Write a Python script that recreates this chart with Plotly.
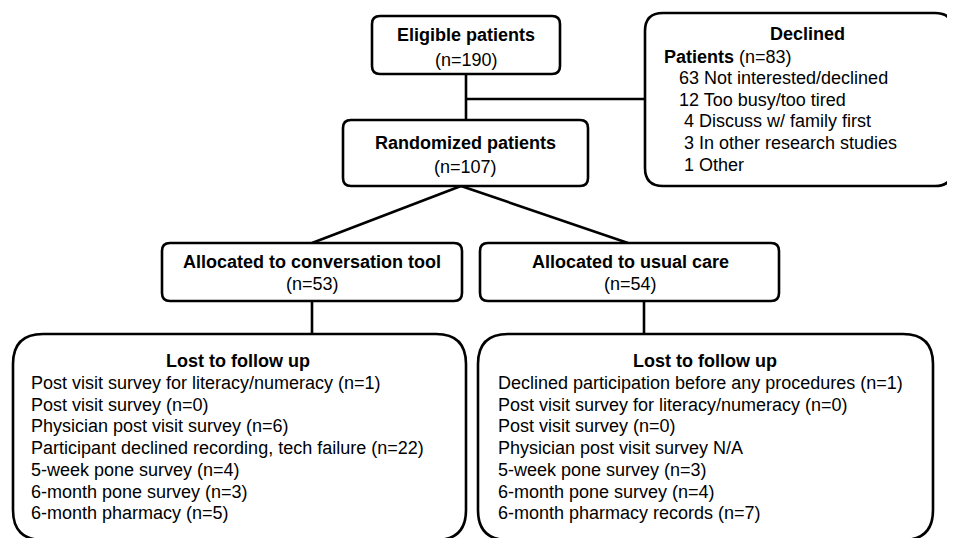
import plotly.graph_objects as go

# ---------------- data ----------------
eligible_n = 190
randomized_n = 107
declined_n = 83
declined_counts = [63, 12, 4, 3, 1]
declined_reasons = ["Not interested/declined", "Too busy/too tired",
                    "Discuss w/ family first", "In other research studies", "Other"]
arm_names = ["conversation tool", "usual care"]
arm_n = [53, 54]
lost_tool_labels = ["Post visit survey for literacy/numeracy", "Post visit survey",
                    "Physician post visit survey", "Participant declined recording, tech failure",
                    "5-week pone survey", "6-month pone survey", "6-month pharmacy"]
lost_tool_counts = [1, 0, 6, 22, 4, 3, 5]
lost_care_labels = ["Declined participation before any procedures",
                    "Post visit survey for literacy/numeracy", "Post visit survey",
                    "Physician post visit survey", "5-week pone survey",
                    "6-month pone survey", "6-month pharmacy records"]
lost_care_counts = [1, 0, 0, None, 3, 4, 7]

# ---------------- layout helpers ----------------
FONT = "Liberation Sans, Arial, Helvetica, sans-serif"
FS = 18
LW = 2.6
W, H = 955, 538
OFF = 8  # page body margin

shapes = []
annotations = []


def rbox(x0, y0, x1, y1, r):
    p = (f"M {x0+r},{y0} L {x1-r},{y0} Q {x1},{y0} {x1},{y0+r} "
         f"L {x1},{y1-r} Q {x1},{y1} {x1-r},{y1} L {x0+r},{y1} "
         f"Q {x0},{y1} {x0},{y1-r} L {x0},{y0+r} Q {x0},{y0} {x0+r},{y0} Z")
    shapes.append(dict(type="path", path=p, xref="x", yref="y",
                       line=dict(color="black", width=LW), fillcolor="white", layer="above"))


def line(x0, y0, x1, y1):
    shapes.append(dict(type="line", x0=x0, y0=y0, x1=x1, y1=y1, xref="x", yref="y",
                       line=dict(color="black", width=LW), layer="below"))


def text(x, y, s, anchor="center", bold=False):
    if bold:
        s = f"<b>{s}</b>"
    annotations.append(dict(x=x, y=y, xref="x", yref="y", text=s, showarrow=False,
                            xanchor=anchor, yanchor="middle",
                            align=anchor if anchor != "center" else "center",
                            font=dict(family=FONT, size=FS, color="black")))


# connectors
line(466, 74, 466, 120)
line(466, 99, 645, 99)
line(461, 186, 312, 243)
line(461, 186, 628, 243)
line(312, 301, 312, 334)
line(644, 301, 644, 334)

# boxes
rbox(372, 16, 560, 74, 8)
rbox(343, 120, 588, 186, 8)
rbox(645, 13, 953, 186, 18)
rbox(162, 243, 462, 301, 8)
rbox(480, 243, 779, 301, 8)
rbox(13, 334, 466, 540, 30)
rbox(478, 334, 933, 540, 30)

# texts
text(466, 35, "Eligible patients", bold=True)
text(466, 60, f"(n={eligible_n})")
text(465, 143, "Randomized patients", bold=True)
text(465, 167, f"(n={randomized_n})")

text(807, 34, "Declined", bold=True)
text(662, 57, f"<b>Patients</b> (n={declined_n})", anchor="left")
for i, (c, r) in enumerate(zip(declined_counts, declined_reasons)):
    s = f"\u00a0{c} {r}" if c < 10 else f"{c} {r}"
    text(677, 78 + i * 21.7, s, anchor="left")

arm_cx = [312, 630]
for cx, name, n in zip(arm_cx, arm_names, arm_n):
    text(cx, 262, f"Allocated to {name}", bold=True)
    text(cx, 284, f"(n={n})")


def lost_lines(labels, counts):
    out = []
    for l, c in zip(labels, counts):
        out.append(f"{l} N/A" if c is None else f"{l} (n={c})")
    return out


for (tx, lx), labels, counts in [((238, 29), lost_tool_labels, lost_tool_counts),
                                  ((705, 496), lost_care_labels, lost_care_counts)]:
    text(tx, 361, "Lost to follow up", bold=True)
    for i, s in enumerate(lost_lines(labels, counts)):
        text(lx, 383 + i * 21.7, s, anchor="left")

fig = go.Figure()
fig.update_layout(
    width=W - OFF, height=H - OFF, margin=dict(l=0, r=0, t=0, b=0),
    paper_bgcolor="white", plot_bgcolor="white",
    xaxis=dict(range=[OFF, W], visible=False, fixedrange=True),
    yaxis=dict(range=[H, OFF], visible=False, fixedrange=True),
    shapes=shapes, annotations=annotations, showlegend=False,
)
fig.write_html("out.html")
